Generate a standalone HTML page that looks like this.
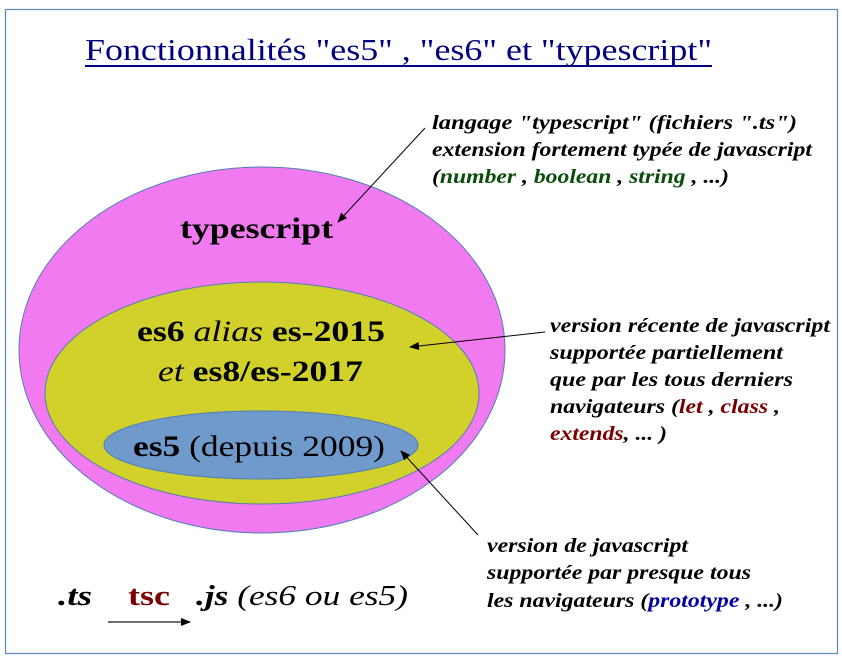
<!DOCTYPE html>
<html><head><meta charset="utf-8"><style>
html,body{margin:0;padding:0;background:#fff;}
svg{display:block;}
text{font-family:"Liberation Serif",serif;}
.a{font-weight:bold;font-style:italic;font-size:20px;fill:#000;}
</style></head><body>
<svg width="842" height="661" viewBox="0 0 842 661" xmlns="http://www.w3.org/2000/svg">
<defs><marker id="ah" markerWidth="10" markerHeight="8" refX="9" refY="4" orient="auto" markerUnits="userSpaceOnUse"><path d="M0,0 L10,4 L0,8 z" fill="#000"/></marker></defs>
<rect x="5.5" y="9.5" width="832" height="644" fill="#fff" stroke="#5b87c0" stroke-width="1.2"/>
<text x="85" y="60" font-size="31" fill="#000080" textLength="627" lengthAdjust="spacingAndGlyphs">Fonctionnalités "es5" , "es6" et "typescript"</text>
<line x1="85" y1="66" x2="712" y2="66" stroke="#000080" stroke-width="2"/>
<ellipse cx="262" cy="350" rx="243" ry="183" fill="#f27af0" stroke="#4f7fb5" stroke-width="1"/>
<ellipse cx="262" cy="393" rx="217" ry="111" fill="#d2d02a" stroke="#4f7fb5" stroke-width="1"/>
<ellipse cx="261" cy="445" rx="157" ry="34" fill="#6f9acb" stroke="#4f7fb5" stroke-width="1"/>
<text x="180" y="238" font-size="30" font-weight="bold" textLength="153" lengthAdjust="spacingAndGlyphs">typescript</text>
<text x="137" y="341" font-size="30" font-weight="bold" textLength="248" lengthAdjust="spacingAndGlyphs">es6 <tspan font-style="italic" font-weight="normal">alias</tspan> es-2015</text>
<text x="158" y="381" font-size="30" font-weight="bold" textLength="205" lengthAdjust="spacingAndGlyphs"><tspan font-style="italic" font-weight="normal">et</tspan> es8/es-2017</text>
<text x="133" y="456" font-size="30" textLength="252" lengthAdjust="spacingAndGlyphs"><tspan font-weight="bold">es5</tspan> (depuis 2009)</text>
<line x1="425" y1="128" x2="338" y2="222" stroke="#000" stroke-width="1" marker-end="url(#ah)"/>
<line x1="545" y1="332" x2="410" y2="347" stroke="#000" stroke-width="1" marker-end="url(#ah)"/>
<line x1="478" y1="535" x2="401" y2="451" stroke="#000" stroke-width="1" marker-end="url(#ah)"/>
<text class="a" x="432" y="129" textLength="365" lengthAdjust="spacingAndGlyphs">langage "typescript" (fichiers ".ts")</text>
<text class="a" x="432" y="156" textLength="380" lengthAdjust="spacingAndGlyphs">extension fortement typée de javascript</text>
<text class="a" x="432" y="183" textLength="297" lengthAdjust="spacingAndGlyphs">(<tspan fill="#0b4d0b">number</tspan> , <tspan fill="#0b4d0b">boolean</tspan> , <tspan fill="#0b4d0b">string</tspan> , ...)</text>
<text class="a" x="550" y="332" textLength="280" lengthAdjust="spacingAndGlyphs">version récente de javascript</text>
<text class="a" x="550" y="359" textLength="233" lengthAdjust="spacingAndGlyphs">supportée partiellement</text>
<text class="a" x="550" y="386" textLength="243" lengthAdjust="spacingAndGlyphs">que par les tous derniers</text>
<text class="a" x="550" y="413" textLength="230" lengthAdjust="spacingAndGlyphs">navigateurs (<tspan fill="#7a0000">let</tspan> , <tspan fill="#7a0000">class</tspan> ,</text>
<text class="a" x="550" y="440" textLength="117" lengthAdjust="spacingAndGlyphs"><tspan fill="#7a0000">extends</tspan>, ... )</text>
<text class="a" x="487" y="552" textLength="201" lengthAdjust="spacingAndGlyphs">version de javascript</text>
<text class="a" x="487" y="579" textLength="264" lengthAdjust="spacingAndGlyphs">supportée par presque tous</text>
<text class="a" x="487" y="607" textLength="296" lengthAdjust="spacingAndGlyphs">les navigateurs (<tspan fill="#0000a0">prototype</tspan> , ...)</text>
<text x="58" y="605" font-size="29" font-weight="bold" font-style="italic" textLength="34" lengthAdjust="spacingAndGlyphs">.ts</text>
<text x="128" y="605" font-size="29" font-weight="bold" fill="#7a0000" textLength="42" lengthAdjust="spacingAndGlyphs">tsc</text>
<text x="196" y="605" font-size="29" font-style="italic" textLength="212" lengthAdjust="spacingAndGlyphs"><tspan font-weight="bold">.js</tspan> (es6 ou es5)</text>
<line x1="108" y1="622" x2="190" y2="622" stroke="#444" stroke-width="1.5" marker-end="url(#ah)"/>
</svg>
</body></html>
